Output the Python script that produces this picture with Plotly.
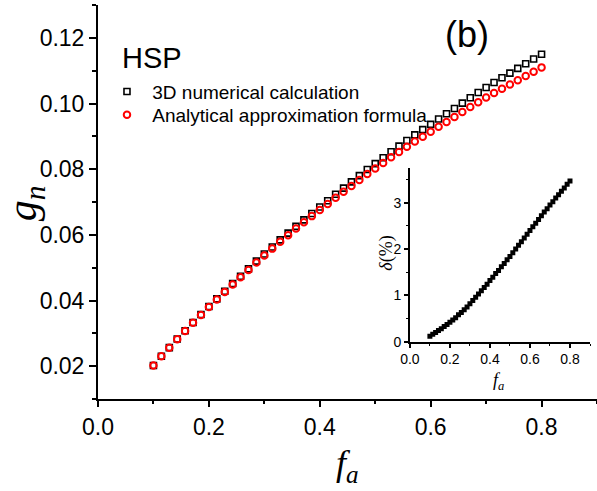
import plotly.graph_objects as go

# Filling fraction grid (50 samples from 0.1 to 0.8)
f_a = [0.1000, 0.1143, 0.1286, 0.1429, 0.1571, 0.1714, 0.1857, 0.2000, 0.2143, 0.2286,
       0.2429, 0.2571, 0.2714, 0.2857, 0.3000, 0.3143, 0.3286, 0.3429, 0.3571, 0.3714,
       0.3857, 0.4000, 0.4143, 0.4286, 0.4429, 0.4571, 0.4714, 0.4857, 0.5000, 0.5143,
       0.5286, 0.5429, 0.5571, 0.5714, 0.5857, 0.6000, 0.6143, 0.6286, 0.6429, 0.6571,
       0.6714, 0.6857, 0.7000, 0.7143, 0.7286, 0.7429, 0.7571, 0.7714, 0.7857, 0.8000]

# g_n from the 3D numerical calculation
g_numerical = [0.02022, 0.02304, 0.02565, 0.02827, 0.03079, 0.03331, 0.03573, 0.03816, 0.04049, 0.04282,
               0.04516, 0.04740, 0.04964, 0.05199, 0.05414, 0.05630, 0.05846, 0.06052, 0.06259, 0.06456,
               0.06652, 0.06850, 0.07038, 0.07236, 0.07424, 0.07613, 0.07802, 0.07991, 0.08170, 0.08350,
               0.08531, 0.08701, 0.08872, 0.09043, 0.09204, 0.09365, 0.09526, 0.09688, 0.09850, 0.10012,
               0.10175, 0.10337, 0.10489, 0.10641, 0.10784, 0.10926, 0.11070, 0.11212, 0.11356, 0.11499]

# g_n from the analytical approximation formula
g_analytical = [0.0202, 0.0230, 0.0256, 0.0282, 0.0307, 0.0332, 0.0356, 0.0380, 0.0403, 0.0426,
                0.0449, 0.0471, 0.0493, 0.0516, 0.0537, 0.0558, 0.0579, 0.0599, 0.0619, 0.0638,
                0.0657, 0.0676, 0.0694, 0.0713, 0.0731, 0.0749, 0.0767, 0.0785, 0.0802, 0.0819,
                0.0836, 0.0852, 0.0868, 0.0884, 0.0899, 0.0914, 0.0929, 0.0944, 0.0959, 0.0974,
                0.0989, 0.1004, 0.1018, 0.1032, 0.1045, 0.1058, 0.1071, 0.1084, 0.1097, 0.1110]

# Relative deviation between the two, in percent
delta_pct = [0.12, 0.16, 0.20, 0.24, 0.28, 0.33, 0.37, 0.42, 0.47, 0.52,
             0.58, 0.63, 0.69, 0.75, 0.82, 0.89, 0.96, 1.03, 1.10, 1.17,
             1.24, 1.32, 1.39, 1.47, 1.54, 1.62, 1.69, 1.77, 1.84, 1.92,
             2.00, 2.08, 2.16, 2.24, 2.32, 2.40, 2.48, 2.56, 2.64, 2.72,
             2.80, 2.87, 2.95, 3.02, 3.10, 3.17, 3.25, 3.32, 3.40, 3.47]

main_x_ticks = [0.0, 0.2, 0.4, 0.6, 0.8]
main_y_ticks = [0.02, 0.04, 0.06, 0.08, 0.10, 0.12]
inset_x_ticks = [0.0, 0.2, 0.4, 0.6, 0.8]
inset_y_ticks = [0, 1, 2, 3]

SANS = "Liberation Sans, Arial, sans-serif"
SERIF = "Liberation Serif, Times New Roman, serif"

fig = go.Figure()

fig.add_trace(go.Scatter(
    x=f_a, y=g_numerical, mode="markers", name="&nbsp;3D numerical calculation", legend="legend",
    marker=dict(symbol="square-open", size=6, color="black", line=dict(width=1.6, color="black")),
))
fig.add_trace(go.Scatter(
    x=f_a, y=g_analytical, mode="markers", name="&nbsp;Analytical approximation formula", legend="legend2",
    marker=dict(symbol="circle-open", size=6.5, color="red", line=dict(width=2, color="red")),
))
fig.add_trace(go.Scatter(
    x=f_a, y=delta_pct, mode="markers", showlegend=False, xaxis="x2", yaxis="y2",
    marker=dict(symbol="square", size=5, color="black", line=dict(width=0)),
))

axis_common = dict(
    showline=True, linecolor="black", linewidth=2, showgrid=False, zeroline=False,
    ticks="outside", tickcolor="black", tickwidth=1.5, mirror=False,
)

legend_common = dict(
    xanchor="left", yanchor="middle", bgcolor="rgba(0,0,0,0)",
    font=dict(family=SANS, size=19, color="black"), itemsizing="trace",
)

fig.update_layout(
    width=597, height=491,
    margin=dict(l=98, r=0, t=5, b=92),
    paper_bgcolor="white", plot_bgcolor="white",
    font=dict(family=SANS, color="black"),
    showlegend=True,
    legend=dict(**legend_common, x=0.018, y=0.780),
    legend2=dict(**legend_common, x=0.018, y=0.7208),
    xaxis=dict(
        **axis_common, range=[0, 0.9], tickvals=main_x_ticks, ticktext=[f"{v:.1f}" for v in main_x_ticks],
        ticklen=6, tickfont=dict(family=SANS, size=23),
        minor=dict(dtick=0.1, tick0=0, ticks="outside", ticklen=3, tickcolor="black", tickwidth=1.5),
        domain=[0, 1],
    ),
    yaxis=dict(
        **axis_common, range=[0.01, 0.13], tickvals=main_y_ticks, ticktext=[f"{v:.2f}" for v in main_y_ticks],
        ticklen=7, tickfont=dict(family=SANS, size=23),
        minor=dict(dtick=0.01, tick0=0, ticks="outside", ticklen=4, tickcolor="black", tickwidth=1.5),
        domain=[0, 1],
    ),
    xaxis2=dict(
        **axis_common, anchor="y2", domain=[0.625, 0.986], range=[0, 0.9],
        tickvals=inset_x_ticks, ticktext=[f"{v:.1f}" for v in inset_x_ticks],
        ticklen=4, tickfont=dict(family=SANS, size=14),
        minor=dict(dtick=0.1, tick0=0, ticks="outside", ticklen=2, tickcolor="black", tickwidth=1.2),
    ),
    yaxis2=dict(
        **axis_common, anchor="x2", domain=[0.1454, 0.5863], range=[0, 3.75],
        tickvals=inset_y_ticks, ticklen=4, tickfont=dict(family=SANS, size=14),
        minor=dict(dtick=0.5, tick0=0, ticks="outside", ticklen=2, tickcolor="black", tickwidth=1.2),
    ),
)
fig.update_xaxes(selector=dict(anchor="y2"), linewidth=1.6)
fig.update_yaxes(selector=dict(anchor="x2"), linewidth=1.6)

annotations = [
    # legend heading
    dict(text="HSP", xref="paper", yref="paper", x=0.0435, y=0.8655,
         xanchor="left", yanchor="middle", showarrow=False,
         font=dict(family=SANS, size=29, color="black")),
    # main axis titles
    dict(text="<i>g</i><sub><i>n</i></sub>", xref="paper", yref="paper", x=-0.146, y=0.497,
         xanchor="center", yanchor="middle", textangle=-90, showarrow=False,
         font=dict(family=SERIF, size=42, color="black")),
    dict(text="<i>f</i><sub><i>a</i></sub>", xref="paper", yref="paper", x=0.499, y=-0.168,
         xanchor="center", yanchor="middle", showarrow=False,
         font=dict(family=SERIF, size=36, color="black")),
    # panel label
    dict(text="(b)", xref="paper", yref="paper", x=0.7395, y=0.926,
         xanchor="center", yanchor="middle", showarrow=False,
         font=dict(family=SANS, size=36, color="black")),
    # inset axis titles
    dict(text="<i>δ</i>(%)", xref="paper", yref="paper", x=0.578, y=0.37,
         xanchor="center", yanchor="middle", textangle=-90, showarrow=False,
         font=dict(family=SERIF, size=18, color="black")),
    dict(text="<i>f</i><sub><i>a</i></sub>", xref="paper", yref="paper", x=0.803, y=0.045,
         xanchor="center", yanchor="middle", showarrow=False,
         font=dict(family=SERIF, size=18, color="black")),
]
fig.update_layout(annotations=annotations)

fig.write_html("out.html")
